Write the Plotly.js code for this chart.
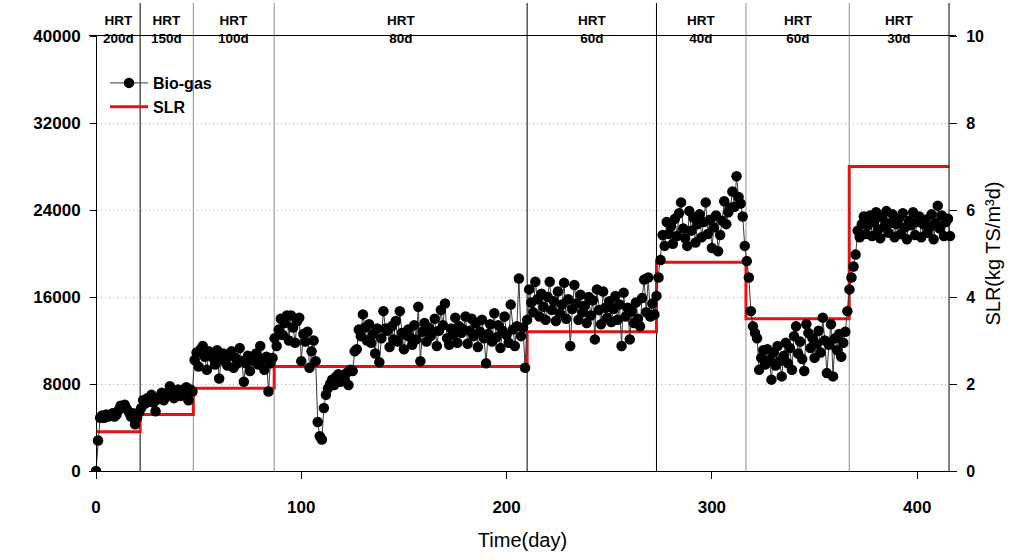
<!DOCTYPE html>
<html><head><meta charset="utf-8">
<script src="https://cdn.plot.ly/plotly-3.0.1.min.js"></script>
<style>html,body{margin:0;padding:0;background:#fff}#chart{width:1023px;height:560px}</style>
</head><body><div id="chart"></div>
<script>
// ---- data ----
const days = [
0,1,2,3,4,5,6,7,8,9,10,11,12,13,14,15,16,17,18,19,20,21,
22,23,24,25,26,27,28,29,30,31,32,33,34,35,36,37,38,39,40,41,42,43,44,45,46,47,
48,49,50,51,52,53,54,55,56,57,58,59,60,61,62,63,64,65,66,67,68,69,70,71,72,73,74,75,76,77,78,79,80,81,82,83,84,85,86,
87,88,89,90,91,92,93,94,95,96,97,98,99,100,101,102,103,104,105,106,107,108,109,110,111,112,113,114,115,116,
117,118,119,120,121,122,123,124,125,126,127,128,129,130,131,132,133,134,135,136,137,138,139,140,141,142,143,144,145,146,
147,148,149,150,151,152,153,154,155,156,157,158,159,160,161,162,163,164,165,166,167,168,169,170,171,172,173,174,175,176,
177,178,179,180,181,182,183,184,185,186,187,188,189,190,191,192,193,194,195,196,197,198,199,200,201,202,203,204,205,206,207,208,209,
210,211,212,213,214,215,216,217,218,219,220,221,222,223,224,225,226,227,228,229,230,231,232,233,234,235,236,237,238,239,240,
241,242,243,244,245,246,247,248,249,250,251,252,253,254,255,256,257,258,259,260,261,262,263,264,265,266,267,268,269,270,271,272,
273,274,275,276,277,278,279,280,281,282,283,284,285,286,287,288,289,290,291,292,293,294,295,296,297,298,299,300,301,302,303,304,305,306,307,308,309,310,311,312,313,314,315,316,
317,318,319,320,321,322,323,324,325,326,327,328,329,330,331,332,333,334,335,336,337,338,339,340,341,342,343,344,345,346,347,348,349,350,351,352,353,354,355,356,357,358,359,360,361,362,363,364,365,366,
367,368,369,370,371,372,373,374,375,376,377,378,379,380,381,382,383,384,385,386,387,388,389,390,391,392,393,394,395,396,397,398,399,400,401,402,403,404,405,406,407,408,409,410,411,412,413,414,415,416
];
const bioGas = [
0,2800,4900,5100,4900,5200,5000,5100,5300,5000,5200,5600,6000,5900,6100,5700,5400,5000,5300,4300,4900,5400,
5800,6500,6200,6700,6400,7000,6300,5500,6600,6800,7200,6500,7100,6900,7800,7000,6700,7200,7500,6900,7400,7000,7700,6500,7500,7300,
10200,10900,9600,11200,11500,10500,9300,11000,10700,10400,9800,11100,8500,10300,10800,10000,9700,10600,11000,9500,10400,9900,11300,10100,8200,9900,10600,9200,10300,10100,10800,9800,11500,10200,9300,10500,7300,9900,10400,
12200,11500,13000,14000,12500,13600,14300,12000,14300,13200,11800,13800,14100,10100,12600,11900,12800,9500,11000,12000,10100,4500,3200,2900,5800,7000,7600,8000,8400,7900,
8700,8900,8200,8600,8300,9000,7900,9300,9200,11000,11200,13000,12400,14400,13200,12000,13500,11800,12600,10800,13100,10000,12200,14700,13100,12900,11400,13300,12100,13800,
11900,14700,12700,11200,12500,13000,12300,11600,13400,12100,15100,10100,12800,13600,11900,13200,12400,12800,14000,11500,12900,14800,13400,15400,12200,11600,13100,12500,14100,11800,
13300,12700,13000,14200,11700,12900,14000,12400,13600,11400,12800,13900,12200,9900,12600,13500,11900,14500,12300,13400,11300,12900,14200,12500,11800,15300,13000,11500,13300,17700,12400,13200,9500,
13900,16700,15500,14600,17400,15800,14200,16300,15100,13900,16000,17400,14800,15600,13800,16500,14500,15300,17300,14000,15800,11500,14900,17100,15400,13900,16200,14600,15200,13600,16000,
14300,15700,12100,16700,14800,13500,16500,15000,14100,15600,13700,14900,16100,13900,15300,11500,16400,14200,15000,12100,14700,13600,15500,14000,13300,15900,17600,14600,17800,14200,15400,14400,
16100,17800,19400,21700,20700,22900,21800,22500,20900,23200,21600,23700,24700,22300,21400,20700,23900,22100,23300,21000,22700,23600,21500,22900,24700,21800,23100,20500,22400,23500,20200,21700,23000,24800,22700,23800,24200,25700,24300,27100,25200,24600,23400,20700,
19300,17800,14700,13300,12700,12200,9300,10400,11100,9800,11200,10200,8400,10900,9700,11500,10100,8700,10600,11800,9900,11300,9300,12400,13300,10800,11900,10300,9200,13500,12700,11300,12200,10400,11700,12900,10900,14100,12000,9000,11600,13500,8700,12200,11100,12600,10500,11800,12800,14700,
16700,17800,18800,19900,22100,21500,22700,23400,21800,22600,23500,21600,22900,23800,22200,21400,23300,22500,23900,21900,22800,23600,21500,22700,23200,21800,23700,22400,21300,23000,22600,23800,21700,22900,23400,21500,22700,23100,21900,22400,23600,21300,22800,24400,22300,23500,21600,22900,23200,21600
];
const slrDays   = [0, 21.5, 47.4, 86.8, 210, 273, 316.6, 366.9, 415.5];
const slrValues = [0.9, 1.3, 1.9, 2.4, 3.2, 4.8, 3.5, 7.0, 7.0];
const hrtBounds = [21.5, 47.4, 86.8, 210, 273, 316.6, 366.9];
const hrtBoundDark = [true, false, false, true, true, false, false];
const hrtLabels = ['200d','150d','100d','80d','60d','40d','60d','30d'];
const endDay = 415.5;
const xTicks = [0, 100, 200, 300, 400];
const gasTicks = [0, 8000, 16000, 24000, 32000, 40000];
const slrTicks = [0, 2, 4, 6, 8, 10];

// ---- layout helpers ----
const FONT = 'Liberation Sans, Arial, sans-serif';
const L = 89, R = 67, T = 36, B = 89;
const plotW = 1023 - L - R;
const plotH = 560 - T - B;
const leftPos = 7 / plotW;
const rightPos = 860 / plotW;
const topExt = 1 + 33 / plotH;

const shapes = hrtBounds.map((b, i) => ({
  type: 'line', xref: 'x', yref: 'paper', x0: b, x1: b, y0: 0, y1: topExt,
  layer: 'below',
  line: {color: hrtBoundDark[i] ? '#000000' : '#8f8f8f', width: 1}
}));
shapes.push({type: 'line', xref: 'x', yref: 'paper', x0: endDay, x1: endDay, y0: 0, y1: topExt,
  line: {color: '#000000', width: 1}});

const segStarts = [0].concat(hrtBounds);
const segEnds = hrtBounds.concat([endDay]);
const annotations = hrtLabels.map((lab, i) => ({
  xref: 'x', yref: 'paper', x: (segStarts[i] + segEnds[i]) / 2, y: 1 + 6 / plotH,
  xanchor: 'center', yanchor: 'middle', showarrow: false,
  text: 'HRT<br>' + lab,
  font: {family: FONT, size: 13.5, weight: 'bold', color: '#000'}
}));

const traces = [
  {x: slrDays, y: slrValues, name: 'SLR', mode: 'lines', yaxis: 'y',
   line: {shape: 'hv', color: '#e01414', width: 3}, legendrank: 2},
  {x: days, y: bioGas, name: 'Bio-gas', mode: 'lines+markers', yaxis: 'y2',
   marker: {size: 10.5, color: '#000000'}, line: {color: '#3a3a3a', width: 1}, legendrank: 1}
];

const layout = {
  width: 1023, height: 560,
  margin: {l: L, r: R, t: T, b: B, pad: 0},
  paper_bgcolor: '#ffffff', plot_bgcolor: '#ffffff',
  font: {family: FONT, color: '#000'},
  showlegend: true,
  legend: {x: (105 - L) / plotW, y: (471 - 66) / plotH, xanchor: 'left', yanchor: 'top',
    bgcolor: 'rgba(0,0,0,0)', font: {family: FONT, size: 16, weight: 'bold', color: '#000'},
    tracegroupgap: 0, itemwidth: 38},
  xaxis: {range: [-3.41, 418.9], tickvals: xTicks, ticks: 'outside', ticklen: 7, tickcolor: '#000',
    showline: true, mirror: true, linecolor: '#000', linewidth: 1, showgrid: false, zeroline: false,
    tickfont: {family: FONT, size: 17, weight: 'bold', color: '#000'}, ticklabelstandoff: 14,
    title: {text: 'Time(day)', font: {family: FONT, size: 20, color: '#000'}, standoff: 16}},
  yaxis: {range: [0, 10], tickvals: slrTicks, side: 'right', anchor: 'free', position: rightPos,
    ticks: 'outside', ticklen: 7, tickcolor: '#000', showline: false, zeroline: false,
    showgrid: true, gridcolor: '#b4b4b4', griddash: '1px,3px', gridwidth: 1,
    tickfont: {family: FONT, size: 16, weight: 'bold', color: '#000'}, ticklabelstandoff: 6,
    title: {text: 'SLR(kg TS/m³d)', font: {family: FONT, size: 20, color: '#000'}, standoff: 2}},
  yaxis2: {overlaying: 'y', side: 'left', anchor: 'free', position: leftPos, range: [0, 40000],
    tickvals: gasTicks, tickformat: 'd', ticks: 'outside', ticklen: 6, tickcolor: '#000',
    showline: true, linecolor: '#000', linewidth: 1, showgrid: false, zeroline: false,
    tickfont: {family: FONT, size: 17, weight: 'bold', color: '#000'}, ticklabelstandoff: 6},
  shapes: shapes,
  annotations: annotations
};

Plotly.newPlot('chart', traces, layout, {displayModeBar: false, staticPlot: true});
</script>
</body></html>
